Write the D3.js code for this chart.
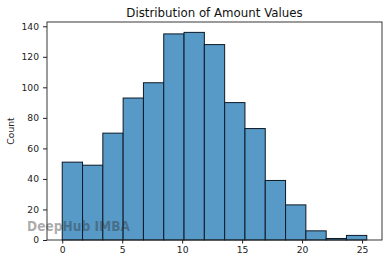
<!DOCTYPE html>
<html><head><meta charset="utf-8">
<script src="https://cdn.jsdelivr.net/npm/d3@7"></script>
<style>body{margin:0;background:#fff}svg{display:block}text{font-family:"DejaVu Sans",sans-serif}</style>
</head><body><svg id="c" width="389" height="264"></svg>
<script>
const binStart = 0;
const binWidth = 1.693;
const counts = [51, 49, 70, 93, 103, 135, 136, 128, 90, 73, 39, 23, 6, 1, 3];
const xTicks = [0, 5, 10, 15, 20, 25];
const yTicks = [0, 20, 40, 60, 80, 100, 120, 140];
const title = "Distribution of Amount Values";
const yLabel = "Count";
const watermark = "DeepHub IMBA";

const svg = d3.select("#c");
const m = {l: 47, r: 382, t: 22, b: 240};
const xMax = binStart + binWidth * counts.length;
const xPad = (xMax - binStart) * 0.05;
const x = d3.scaleLinear().domain([binStart - xPad, xMax + xPad]).range([m.l, m.r]);
const y = d3.scaleLinear().domain([0, d3.max(counts) * 1.05]).range([m.b, m.t]);

svg.append("g").selectAll("rect").data(counts).join("rect")
  .attr("x", (d, i) => x(binStart + i * binWidth))
  .attr("width", (d, i) => x(binStart + (i + 1) * binWidth) - x(binStart + i * binWidth))
  .attr("y", d => y(d))
  .attr("height", d => y(0) - y(d))
  .attr("fill", "#5799c7")
  .attr("stroke", "#0d1a26")
  .attr("stroke-width", 1);

svg.append("rect").attr("x", m.l).attr("y", m.t).attr("width", m.r - m.l).attr("height", m.b - m.t)
  .attr("fill", "none").attr("stroke", "#222").attr("stroke-width", 0.9);

const xa = svg.append("g").attr("transform", `translate(0,${m.b})`)
  .call(d3.axisBottom(x).tickValues(xTicks).tickSize(3.5).tickPadding(3));
const ya = svg.append("g").attr("transform", `translate(${m.l},0)`)
  .call(d3.axisLeft(y).tickValues(yTicks).tickSize(4).tickPadding(4));
[xa, ya].forEach(a => {
  a.select(".domain").remove();
  a.selectAll("line").attr("stroke", "#222");
  a.selectAll("text").attr("font-size", 9.2).attr("fill", "#222").attr("font-family", "DejaVu Sans");
});

svg.append("text").attr("x", (m.l + m.r) / 2).attr("y", 17).attr("text-anchor", "middle")
  .attr("font-size", 11.8).attr("fill", "#111").text(title);
svg.append("text").attr("transform", `translate(14,${(m.t + m.b) / 2}) rotate(-90)`)
  .attr("text-anchor", "middle").attr("font-size", 9.2).attr("fill", "#222").text(yLabel);

svg.append("text").attr("x", 27).attr("y", 230.5).attr("font-size", 14).attr("font-weight", 600)
  .attr("fill", "#333").attr("fill-opacity", 0.42).attr("font-family", "Open Sans, sans-serif")
  .attr("textLength", 103).attr("lengthAdjust", "spacingAndGlyphs").text(watermark);
</script></body></html>
